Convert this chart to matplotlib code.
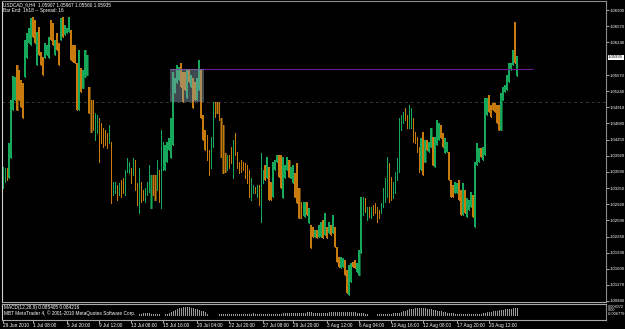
import matplotlib
matplotlib.use("Agg")
import matplotlib.pyplot as plt
from matplotlib.patches import Rectangle
import matplotlib.transforms as mtrans

# H4 bars, USDCAD
highs = [
    1.0369, 1.0367, 1.0367, 1.0418, 1.0506, 1.0555, 1.0553, 1.0578, 1.0568, 1.0547,
    1.0541, 1.0629, 1.0643, 1.0654, 1.0674, 1.0676, 1.0670, 1.0645, 1.0656, 1.0604,
    1.0594, 1.0623, 1.0619, 1.0635, 1.0670, 1.0664, 1.0629, 1.0643, 1.0623, 1.0674,
    1.0676, 1.0660, 1.0654, 1.0676, 1.0649, 1.0619, 1.0619, 1.0582, 1.0608, 1.0572,
    1.0567, 1.0608, 1.0598, 1.0533, 1.0506, 1.0506, 1.0479, 1.0475, 1.0469, 1.0459,
    1.0449, 1.0444, 1.0438, 1.0455, 1.0420, 1.0338, 1.0338, 1.0332, 1.0336, 1.0342,
    1.0346, 1.0362, 1.0387, 1.0379, 1.0367, 1.0387, 1.0383, 1.0336, 1.0367, 1.0338,
    1.0322, 1.0326, 1.0338, 1.0373, 1.0352, 1.0352, 1.0352, 1.0383, 1.0362, 1.0444,
    1.0420, 1.0414, 1.0420, 1.0428, 1.0469, 1.0563, 1.0551, 1.0578, 1.0574, 1.0582,
    1.0563, 1.0563, 1.0567, 1.0567, 1.0557, 1.0551, 1.0543, 1.0551, 1.0588, 1.0567,
    1.0475, 1.0444, 1.0434, 1.0404, 1.0430, 1.0502, 1.0502, 1.0502, 1.0502, 1.0469,
    1.0455, 1.0397, 1.0393, 1.0393, 1.0410, 1.0424, 1.0438, 1.0399, 1.0379, 1.0383,
    1.0379, 1.0377, 1.0373, 1.0362, 1.0346, 1.0332, 1.0328, 1.0332, 1.0332, 1.0397,
    1.0362, 1.0373, 1.0389, 1.0369, 1.0338, 1.0379, 1.0383, 1.0393, 1.0393, 1.0393,
    1.0389, 1.0373, 1.0389, 1.0383, 1.0369, 1.0373, 1.0356, 1.0377, 1.0326, 1.0297,
    1.0297, 1.0297, 1.0297, 1.0285, 1.0250, 1.0246, 1.0239, 1.0239, 1.0250, 1.0256,
    1.0260, 1.0274, 1.0246, 1.0256, 1.0250, 1.0270, 1.0246, 1.0205, 1.0184, 1.0184,
    1.0182, 1.0178, 1.0158, 1.0168, 1.0172, 1.0174, 1.0178, 1.0172, 1.0198, 1.0307,
    1.0307, 1.0305, 1.0287, 1.0287, 1.0287, 1.0291, 1.0295, 1.0287, 1.0280, 1.0295,
    1.0326, 1.0346, 1.0389, 1.0377, 1.0348, 1.0338, 1.0358, 1.0387, 1.0469, 1.0475,
    1.0481, 1.0490, 1.0475, 1.0496, 1.0490, 1.0469, 1.0440, 1.0430, 1.0410, 1.0428,
    1.0440, 1.0424, 1.0424, 1.0420, 1.0449, 1.0430, 1.0430, 1.0465, 1.0459, 1.0455,
    1.0438, 1.0428, 1.0420, 1.0399, 1.0342, 1.0332, 1.0338, 1.0336, 1.0342, 1.0322,
    1.0336, 1.0322, 1.0305, 1.0301, 1.0317, 1.0311, 1.0379, 1.0418, 1.0408, 1.0408,
    1.0410, 1.0510, 1.0510, 1.0516, 1.0496, 1.0500, 1.0500, 1.0496, 1.0496, 1.0520,
    1.0533, 1.0537, 1.0557, 1.0582, 1.0582, 1.0608, 1.0666, 1.0597,
]
lows = [
    1.0326, 1.0338, 1.0342, 1.0346, 1.0387, 1.0486, 1.0506, 1.0486, 1.0506, 1.0492,
    1.0469, 1.0553, 1.0592, 1.0623, 1.0619, 1.0635, 1.0623, 1.0578, 1.0598, 1.0578,
    1.0557, 1.0592, 1.0598, 1.0592, 1.0629, 1.0619, 1.0598, 1.0608, 1.0578, 1.0629,
    1.0635, 1.0639, 1.0643, 1.0645, 1.0588, 1.0584, 1.0582, 1.0486, 1.0486, 1.0522,
    1.0531, 1.0553, 1.0557, 1.0479, 1.0440, 1.0444, 1.0424, 1.0438, 1.0379, 1.0418,
    1.0410, 1.0414, 1.0408, 1.0418, 1.0295, 1.0311, 1.0315, 1.0301, 1.0311, 1.0307,
    1.0315, 1.0311, 1.0358, 1.0356, 1.0336, 1.0352, 1.0322, 1.0291, 1.0274, 1.0297,
    1.0301, 1.0297, 1.0311, 1.0317, 1.0285, 1.0311, 1.0301, 1.0322, 1.0297, 1.0285,
    1.0362, 1.0362, 1.0379, 1.0404, 1.0387, 1.0414, 1.0520, 1.0541, 1.0547, 1.0533,
    1.0502, 1.0526, 1.0510, 1.0543, 1.0533, 1.0490, 1.0506, 1.0506, 1.0526, 1.0469,
    1.0424, 1.0404, 1.0383, 1.0352, 1.0367, 1.0410, 1.0471, 1.0479, 1.0465, 1.0389,
    1.0356, 1.0358, 1.0362, 1.0367, 1.0377, 1.0346, 1.0393, 1.0367, 1.0356, 1.0358,
    1.0362, 1.0346, 1.0336, 1.0307, 1.0301, 1.0315, 1.0315, 1.0307, 1.0291, 1.0256,
    1.0336, 1.0342, 1.0346, 1.0301, 1.0301, 1.0307, 1.0362, 1.0379, 1.0348, 1.0326,
    1.0305, 1.0346, 1.0362, 1.0348, 1.0346, 1.0336, 1.0307, 1.0295, 1.0264, 1.0264,
    1.0270, 1.0266, 1.0270, 1.0254, 1.0203, 1.0225, 1.0225, 1.0223, 1.0225, 1.0225,
    1.0223, 1.0229, 1.0223, 1.0233, 1.0229, 1.0233, 1.0205, 1.0174, 1.0164, 1.0162,
    1.0164, 1.0147, 1.0110, 1.0106, 1.0133, 1.0164, 1.0162, 1.0153, 1.0147, 1.0192,
    1.0270, 1.0276, 1.0260, 1.0266, 1.0264, 1.0270, 1.0274, 1.0256, 1.0264, 1.0274,
    1.0287, 1.0297, 1.0307, 1.0297, 1.0301, 1.0305, 1.0315, 1.0342, 1.0358, 1.0444,
    1.0459, 1.0465, 1.0449, 1.0449, 1.0449, 1.0420, 1.0418, 1.0399, 1.0358, 1.0362,
    1.0352, 1.0379, 1.0404, 1.0399, 1.0410, 1.0373, 1.0369, 1.0414, 1.0424, 1.0428,
    1.0410, 1.0397, 1.0399, 1.0342, 1.0307, 1.0307, 1.0315, 1.0315, 1.0301, 1.0270,
    1.0270, 1.0274, 1.0266, 1.0280, 1.0287, 1.0266, 1.0246, 1.0373, 1.0379, 1.0389,
    1.0383, 1.0393, 1.0475, 1.0481, 1.0471, 1.0486, 1.0481, 1.0459, 1.0444, 1.0444,
    1.0506, 1.0522, 1.0526, 1.0543, 1.0567, 1.0578, 1.0582, 1.0556,
]
# g = bull bar, o = bear bar, upper case = bar with the dark shadow body
kinds = ("ggoggggOoo" "oggggoogoo" "ogggoogoog" "ogggoooogo" "GGGOOoggoo"
         "ooogoggogo" "ogggogoogo" "ogggGOOgog" "gggggggggo" "oogogooggo"
         "ooooggoOoO" "OOgoogoooo" "ooooggogog" "gogoogggoo" "gggOGgOoOo"
         "ggogoogogg" "ogogogooog" "googgoogGg" "gogogoooog" "gggooggggg"
         "googgoooog" "oGogGOgggo" "oggoooggoo" "gogggogggo" "gggoooooOG"
         "ggggggog")
# stretches of bars that are drawn with a heavier stroke in the screenshot
heavy_runs = [(3, 43), (81, 101), (131, 148), (151, 179), (209, 257)]

level_price = 1.0570      # purple horizontal line
level_from, level_to = 83.5, 265
dotted_price = 1.0502     # dark dotted level
box_x0, box_x1 = 83.5, 100.5

price_ticks = [1.06900, 1.06570, 1.06240, 1.05570, 1.05240, 1.04910, 1.04580,
               1.04250, 1.03920, 1.03590, 1.03250, 1.02920, 1.02590, 1.02260,
               1.01930, 1.01600, 1.01270, 1.00940]
last_price = 1.05935

time_labels = ["29 Jun 2010", "1 Jul 08:00", "5 Jul 20:00", "9 Jul 12:00",
               "13 Jul 08:00", "15 Jul 16:00", "20 Jul 04:00", "22 Jul 20:00",
               "27 Jul 08:00", "29 Jul 20:00", "3 Aug 12:00", "6 Aug 04:00",
               "10 Aug 16:00", "12 Aug 08:00", "17 Aug 20:00", "20 Aug 12:00"]
time_pos = [0, 15, 32, 48, 64, 80, 97, 113, 130, 145, 162, 178, 194, 210, 227, 243]

macd_start = 68
macd = [
    0.0012, 0.0013, 0.0014, 0.0015, 0.0015, 0.0014, 0.0013, 0.0012, 0.0011, 0.0010, 0.0008,
    0.0006, 0.0005, 0.0008, 0.0012, 0.0016,
    0.0022, 0.0030, 0.0038, 0.0045, 0.0052, 0.0058, 0.0062, 0.0064, 0.0063, 0.0061,
    0.0058, 0.0054, 0.0050, 0.0046, 0.0041, 0.0036, 0.0030, 0.0025,
    0.0008, 0.0006, 0.0004, 0.0003, 0.0004, 0.0006, 0.0008,
    0.0010, 0.0011, 0.0012, 0.0012, 0.0013, 0.0012, 0.0011, 0.0012, 0.0012, 0.0013,
    0.0013, 0.0012, 0.0012, 0.0011, 0.0012, 0.0013, 0.0014, 0.0013, 0.0012, 0.0012,
    0.0011, 0.0011, 0.0012, 0.0012, 0.0013, 0.0012, 0.0012, 0.0011, 0.0011, 0.0012,
    0.0013, 0.0014, 0.0015, 0.0016, 0.0016, 0.0017, 0.0018, 0.0018, 0.0019, 0.0020,
    0.0020, 0.0021, 0.0021, 0.0022, 0.0022, 0.0022, 0.0021, 0.0021, 0.0020, 0.0020,
    0.0019,
    0.0019, 0.0020, 0.0021, 0.0022, 0.0023, 0.0024, 0.0024, 0.0025, 0.0025, 0.0026,
    0.0026, 0.0026, 0.0025, 0.0025, 0.0024, 0.0023, 0.0022, 0.0021, 0.0020, 0.0018,
    0.0016, 0.0012, 0.0008,
    0.0004, 0.0002, 0.0003,
    0.0006, 0.0008, 0.0009, 0.0010, 0.0011, 0.0011, 0.0012, 0.0012, 0.0013, 0.0014,
    0.0016, 0.0018, 0.0021,
    0.0025, 0.0030, 0.0035, 0.0040, 0.0044, 0.0048, 0.0051, 0.0053, 0.0055, 0.0056,
    0.0056, 0.0055, 0.0053, 0.0050, 0.0047,
    0.0044, 0.0041, 0.0038, 0.0035, 0.0032, 0.0029, 0.0026, 0.0023, 0.0021, 0.0019,
    0.0017, 0.0015, 0.0013,
    0.0012, 0.0011, 0.0010, 0.0010, 0.0009, 0.0009, 0.0010, 0.0010, 0.0011, 0.0011,
    0.0012, 0.0012, 0.0013, 0.0014,
    0.0018, 0.0022, 0.0025, 0.0028, 0.0031, 0.0034, 0.0036, 0.0038, 0.0040, 0.0042,
    0.0044, 0.0046, 0.0048, 0.0050, 0.0052, 0.0054, 0.0056,
]

W, H = 625, 329
plt.rcParams['font.family'] = ['Liberation Sans', 'DejaVu Sans']
FS = 3.4


def box(x0, y0, x1, y1):
    # pixel box (top-left origin) -> figure fraction rect
    return [x0 / W, 1 - y1 / H, (x1 - x0) / W, (y1 - y0) / H]


fig = plt.figure(figsize=(W / 100, H / 100), dpi=100, facecolor='black')

ax = fig.add_axes(box(2, 1, 606, 302))
ax.set_facecolor('black')
ax.set_xlim(-0.5, 301.5)
ax.set_ylim(1.00919, 1.07090)

xs = list(range(len(highs)))
up_c, dn_c = '#16a95b', '#c97a0c'
sh_up, sh_dn = '#0b5a2c', '#5e400a'
cols = [up_c if k in 'gG' else dn_c for k in kinds]

thick = [i for i, k in enumerate(kinds) if k.isupper()]
ax.vlines(thick, [lows[i] for i in thick], [highs[i] for i in thick],
          colors=[sh_up if kinds[i] == 'G' else sh_dn for i in thick],
          linewidth=2.0, zorder=2, antialiased=False)

heavy = [i for a, b in heavy_runs for i in range(a, b + 1)]
ax.vlines(heavy, [lows[i] for i in heavy], [highs[i] for i in heavy],
          colors=[cols[i] for i in heavy], linewidth=1.1, zorder=3,
          antialiased=False)
ax.vlines(xs, lows, highs, colors=cols, linewidth=0.5, zorder=3, antialiased=False)

ax.axhline(dotted_price, color='#383838', linewidth=0.7,
           linestyle=(0, (3, 3)), zorder=1)
ax.hlines(level_price, level_from, level_to, color='#6c1c8c', linewidth=0.8, zorder=4)
ax.add_patch(Rectangle((box_x0, dotted_price), box_x1 - box_x0, level_price - dotted_price,
                       facecolor='#8aa0b0', alpha=0.45, edgecolor='none', zorder=5))

ax.set_xticks([])
ax.yaxis.tick_right()
ax.set_yticks(price_ticks)
ax.set_yticklabels(['%.5f' % p for p in price_ticks])
ax.tick_params(axis='y', colors='#c8c8c8', labelcolor='white', labelsize=3.1,
               length=2, width=0.6, pad=0.3)
for s in ax.spines.values():
    s.set_color('#8c8c8c')
    s.set_linewidth(0.8)
ax.spines['left'].set_color('#d0d0d0')
ax.spines['bottom'].set_color('#a8a8a8')

trans = mtrans.blended_transform_factory(ax.transAxes, ax.transData)
ax.text(1.0035, last_price, '%.5f' % last_price, transform=trans, fontsize=3.1,
        color='black', va='center', ha='left', zorder=10,
        bbox=dict(facecolor='white', edgecolor='none', pad=0.3))

fig.text(3 / W, 1 - 5 / H, "USDCAD_fi,H4  1.05907 1.05967 1.05560 1.05935",
         color='white', fontsize=FS, va='center', ha='left')
fig.text(3 / W, 1 - 10.5 / H, "Bar End: 1h18 -- Spread: 16",
         color='white', fontsize=FS, va='center', ha='left')

# MACD window
ax2 = fig.add_axes(box(2, 304, 606, 320))
ax2.set_facecolor('black')
ax2.set_xlim(-0.5, 301.5)
ax2.set_ylim(-0.0035, 0.0085)
mx = list(range(macd_start, macd_start + len(macd)))
ax2.vlines(mx, 0, macd, colors='#9c9c9c', linewidth=0.5, antialiased=False)
ax2.set_yticks([])
ax2.set_xticks(time_pos)
ax2.set_xticklabels(time_labels)
ax2.tick_params(axis='x', colors='#c8c8c8', labelcolor='white', labelsize=FS,
                length=2, width=0.6, pad=0.5)
for lbl in ax2.get_xticklabels():
    lbl.set_horizontalalignment('left')
for s in ax2.spines.values():
    s.set_color('#a8a8a8')
    s.set_linewidth(0.8)
ax2.spines['left'].set_color('#d0d0d0')
ax2.spines['right'].set_color('#8c8c8c')

ax2.text(0.003, 0.78, "MACD(12,26,9) 0.085405 0.084216", transform=ax2.transAxes,
         color='white', fontsize=FS, va='center', ha='left')
ax2.text(0.003, 0.40, "MBT MetaTrader 4, \u00a9 2001-2010 MetaQuotes Software Corp.",
         transform=ax2.transAxes, color='white', fontsize=FS, va='center', ha='left')
for yf, t in [(0.84, "0.008072"), (0.60, "0.00"), (0.36, "-0.006779")]:
    ax2.text(1.0035, yf, t, transform=ax2.transAxes, color='white',
             fontsize=2.8, va='center', ha='left')

fig.savefig('out.png', dpi=100, facecolor='black')
